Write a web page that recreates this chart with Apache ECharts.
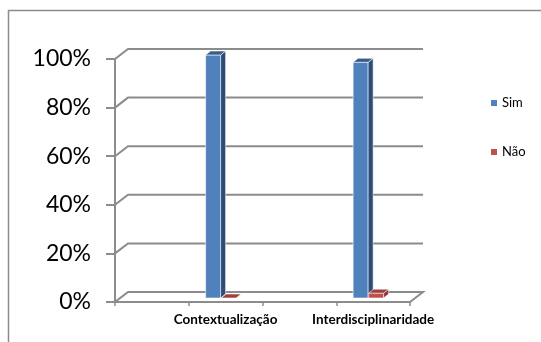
<!DOCTYPE html>
<html>
<head>
<meta charset="utf-8">
<script src="https://cdn.jsdelivr.net/npm/echarts@6/dist/echarts.min.js"></script>
<style>
  html, body { margin: 0; padding: 0; background: #fff; }
  #chart { width: 541px; height: 342px; }
</style>
</head>
<body>
<div id="chart"></div>
<script>
// categorias (as vazias só marcam os ticks intermédios do eixo)
var categories = ['', 'Contextualização', '', 'Interdisciplinaridade'];
var simValues = [null, 1.00, null, 0.97];
var naoValues = [null, 0.00, null, 0.02];
var yTicks = [0, 0.2, 0.4, 0.6, 0.8, 1.0];

var gridColor = '#8c8c8c';
var back = [13, -10];   // deslocamento da parede do fundo
var depth = [5, -4];    // profundidade das barras

function toData (vals) {
	var out = [];
	for (var i = 0; i < vals.length; i++) {
		if (vals[i] !== null) out.push([i, vals[i]]);
	}
	return out;
}

// paredes / linhas de grelha em "3D"
function renderWall (params, api) {
	var cs = params.coordSys;
	var L = cs.x, R = cs.x + cs.width;
	var y = api.coord([0, api.value(0)])[1];
	var pts;
	if (api.value(0) === 0) {
		pts = [[L, y], [L + back[0], y + back[1]], [R + back[0], y + back[1]], [R, y]];
	} else {
		pts = [[L, y], [L + back[0], y + back[1]], [R + back[0], y + back[1]]];
	}
	return {
		type: 'polyline',
		shape: { points: pts },
		style: { stroke: gridColor, lineWidth: 2, fill: null }
	};
}

function makeBar (off, front, side, top) {
	return function (params, api) {
		var c = api.coord([api.value(0), 0]);
		var t = api.coord([api.value(0), api.value(1)]);
		var x0 = c[0] + off, w = 15;
		var yb = c[1] - 4, yt = t[1] - 4;
		var dx = depth[0], dy = depth[1];
		var kids = [];
		if (yb - yt > 0.5) {
			kids.push({
				type: 'rect',
				shape: { x: x0, y: yt, width: w, height: yb - yt },
				style: { fill: front, stroke: 'rgba(255,255,255,0.7)', lineWidth: 0.8 }
			});
			kids.push({
				type: 'polygon',
				shape: { points: [[x0 + w, yt], [x0 + w + dx, yt + dy], [x0 + w + dx, yb + dy], [x0 + w, yb]] },
				style: { fill: side, stroke: 'rgba(255,255,255,0.7)', lineWidth: 0.8 }
			});
		}
		kids.push({
			type: 'polygon',
			shape: { points: [[x0, yt], [x0 + dx, yt + dy], [x0 + w + dx, yt + dy], [x0 + w, yt]] },
			style: { fill: top, stroke: 'rgba(255,255,255,0.7)', lineWidth: 0.8 }
		});
		return { type: 'group', children: kids };
	};
}

var chart = echarts.init(document.getElementById('chart'));

var option = {
	backgroundColor: '#fff',
	animation: false,
	graphic: [{
		type: 'rect',
		shape: { x: 8.5, y: 10.5, width: 600, height: 400 },
		style: { fill: null, stroke: gridColor, lineWidth: 1.5 },
		silent: true
	}],
	legend: {
		orient: 'vertical',
		left: 486,
		top: 91,
		itemWidth: 6,
		itemHeight: 6,
		itemGap: 35,
		icon: 'rect',
		data: ['Sim', 'Não'],
		textStyle: { fontFamily: 'Lato', fontSize: 13, color: '#000', lineHeight: 14 }
	},
	grid: { left: 115, right: 131, top: 59, bottom: 40 },
	xAxis: {
		type: 'category',
		data: categories,
		axisLine: { lineStyle: { color: gridColor, width: 2 } },
		axisTick: { show: true, length: 4, lineStyle: { color: gridColor, width: 1.5 } },
		axisLabel: {
			interval: 0, margin: 11,
			fontFamily: 'Lato', fontWeight: 'bold', fontSize: 13.5, color: '#000'
		},
		splitLine: { show: false }
	},
	yAxis: {
		type: 'value',
		min: 0,
		max: 1,
		interval: 0.2,
		axisLine: { show: true, lineStyle: { color: gridColor, width: 2 } },
		axisTick: { show: true, length: 9, lineStyle: { color: gridColor, width: 2 } },
		axisLabel: {
			margin: 24,
			fontFamily: 'Lato', fontSize: 23, color: '#000',
			formatter: function (v) { return Math.round(v * 100) + '%'; }
		},
		splitLine: { show: false }
	},
	series: [
		{
			name: 'walls',
			type: 'custom',
			z: 1,
			silent: true,
			renderItem: renderWall,
			data: yTicks.map(function (v) { return [v]; }),
			encode: { y: 0 }
		},
		{
			name: 'Sim',
			type: 'custom',
			z: 3,
			itemStyle: { color: '#4f81bd' },
			renderItem: makeBar(-20, '#4f81bd', '#2c4d75', '#385d8a'),
			data: toData(simValues),
			encode: { x: 0, y: 1 }
		},
		{
			name: 'Não',
			type: 'custom',
			z: 4,
			itemStyle: { color: '#c0504d' },
			renderItem: makeBar(-4.5, '#c0504d', '#8c3836', '#9e3f3c'),
			data: toData(naoValues),
			encode: { x: 0, y: 1 }
		}
	]
};

chart.setOption(option);
</script>
</body>
</html>
